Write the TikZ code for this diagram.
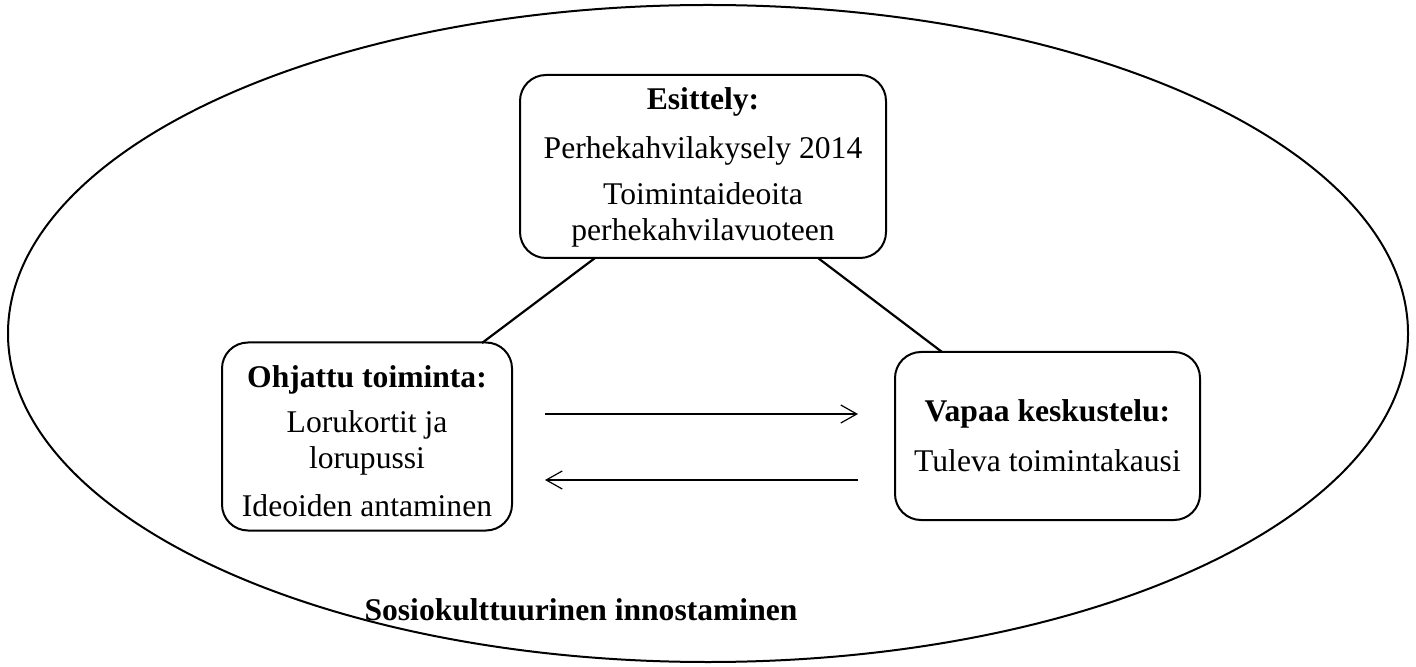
\documentclass[tikz,border=0pt]{standalone}
\usepackage{fontspec}
\setmainfont{Liberation Serif}
\usetikzlibrary{arrows.meta}
\begin{document}
\begin{tikzpicture}[x=0.5pt,y=-0.5pt,
  box/.style={draw, line width=1pt, rounded corners=13pt, inner sep=0pt},
  txt/.style={inner sep=0pt, font=\fontsize{15.8}{18}\selectfont, align=center},
  btxt/.style={txt, font=\fontsize{15.8}{18}\selectfont\bfseries},
  link/.style={line width=1.1pt},
  flow/.style={line width=0.6pt, -{Straight Barb[length=8pt,width=9pt,line width=0.6pt]}}]
\useasboundingbox (0,0) rectangle (1416,667);
\draw[line width=1pt] (708,333.5) ellipse [x radius=700, y radius=328.5];
% boxes
\node[box, minimum width=366*0.5pt, minimum height=183*0.5pt] (top) at (703,166.5) {};
\node[box, minimum width=290*0.5pt, minimum height=188*0.5pt] (left) at (367,436.5) {};
\node[box, minimum width=305*0.5pt, minimum height=168*0.5pt] (right) at (1047.5,436) {};
% texts
\node[btxt] (t1) at (703,102) {Esittely:};
\node[txt] (t2) at (703,151) {Perhekahvilakysely 2014};
\node[txt] (t3) at (703,215) {Toimintaideoita\\perhekahvilavuoteen};
\node[btxt] (l1) at (367,380) {Ohjattu toiminta:};
\node[txt] (l2) at (367,443) {Lorukortit ja\\lorupussi};
\node[txt] (l3) at (367,506) {Ideoiden antaminen};
\node[btxt] (r1) at (1047.5,414) {Vapaa keskustelu:};
\node[txt] (r2) at (1047.5,461) {Tuleva toimintakausi};
\node[btxt] (s) at (581,610) {Sosiokulttuurinen innostaminen};
% connectors
\coordinate (tl) at (595,258);
\coordinate (tr) at (818,258);
\coordinate (lt) at (482,343);
\coordinate (rt) at (942,352);
\draw[link] (tl) -- (lt);
\draw[link] (tr) -- (rt);
\coordinate (a1s) at (545,414);
\coordinate (a1e) at (858,414);
\coordinate (a2s) at (858,480);
\coordinate (a2e) at (545,480);
\draw[flow] (a1s) -- (a1e);
\draw[flow] (a2s) -- (a2e);
\end{tikzpicture}
\end{document}
